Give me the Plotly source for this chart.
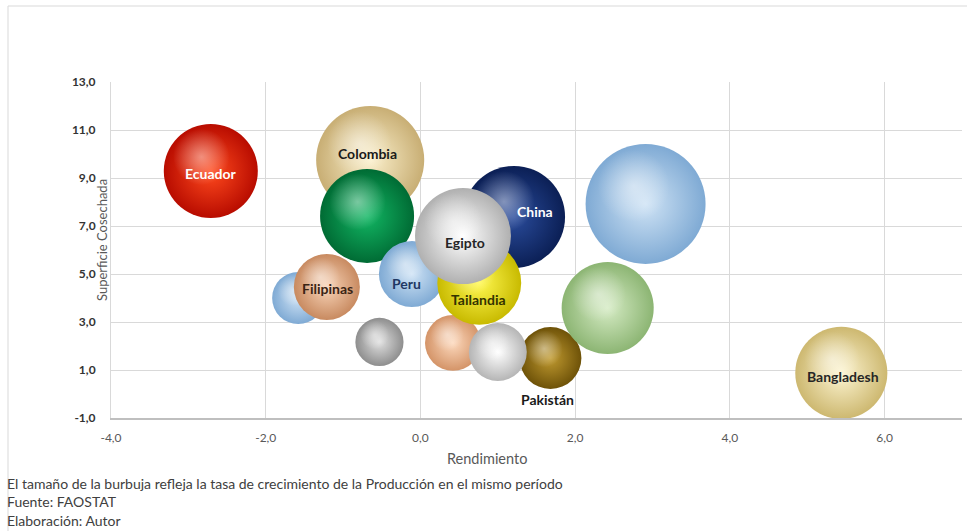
import plotly.graph_objects as go

# ---- data ----
names = ["Colombia", "Verde", "Azul pequeño", "Filipinas", "Peru", "China", "Durazno",
         "Tailandia", "Egipto", "Pakistán", "Blanco", "Gris", "Azul grande",
         "Verde claro", "Ecuador", "Bangladesh"]
rendimiento = [-0.65, -0.69, -1.58, -1.21, -0.11, 1.21, 0.42,
               0.76, 0.55, 1.68, 1.00, -0.53, 2.91,
               2.42, -2.71, 5.44]
superficie = [9.75, 7.42, 4.00, 4.46, 5.00, 7.38, 2.13,
              4.63, 6.58, 1.50, 1.75, 2.17, 7.92,
              3.58, 9.29, 0.88]
crecimiento = [29.2, 22.1, 6.8, 10.9, 10.9, 26.0, 7.8,
               17.6, 23.0, 9.6, 8.4, 5.8, 36.0,
               21.2, 22.1, 21.2]
labels = ["Colombia", "", "", "Filipinas", "Peru", "China", "",
          "Tailandia", "Egipto", "Pakistán", "", "", "",
          "", "Ecuador", "Bangladesh"]

x_ticks = [-4, -2, 0, 2, 4, 6]
y_ticks = [-1, 1, 3, 5, 7, 9, 11, 13]

# ---- styles ----
edge = ["#C8AE74", "#006B34", "#7FAAD4", "#C88A60", "#7FAAD4", "#0B1F55", "#D49468",
        "#C8BA00", "#B0B0B0", "#6E5208", "#B5B5B5", "#8E8E8E", "#7FAAD4",
        "#8CB573", "#B80C00", "#CDB870"]
center = ["#FBF0CC", "#12B764", "#CFE3F5", "#F8D4B8", "#CFE3F5", "#2A4C9C", "#FCD8BC",
          "#FFF850", "#FFFFFF", "#C09A30", "#FFFFFF", "#E0E0E0", "#CFE3F5",
          "#D5EBC4", "#FF4A1E", "#FDF5D2"]
label_color = ["#1a1a1a", "#000", "#000", "#3a2414", "#1F3864", "#FFFFFF", "#000",
               "#333300", "#262626", "#1a1a1a", "#000", "#000", "#000",
               "#000", "#FFFFFF", "#262626"]
label_shift = [(-3, 7), (0, 0), (0, 0), (1, -2), (-5, -9), (21, 5), (0, 0),
               (-1, -17), (2, -6), (-3, -41), (0, 0), (0, 0), (0, 0),
               (0, 0), (0, -2), (2, -4)]

FONT = "Lato, Noto Sans, sans-serif"
W, H = 967, 531
ML, MR, MT, MB = 111, 5, 82, 113
xr = [-4, 7]
yr = [-1, 13]
PW, PH = W - ML - MR, H - MT - MB
px_x = PW / (xr[1] - xr[0])
px_y = PH / (yr[1] - yr[0])
sizeref = 0.005  # plotly area mode: diameter px = 2*sqrt(value / (2*sizeref))


def px(xp):
    return (xp - ML) / PW


def py(yp):
    return (H - MB - yp) / PH


fig = go.Figure()
for i in range(len(names)):
    d = 2 * (crecimiento[i] / (2 * sizeref)) ** 0.5
    fig.add_trace(go.Scatter(
        x=[rendimiento[i]], y=[superficie[i]], mode="markers", name=names[i],
        marker=dict(size=[crecimiento[i]], sizemode="area", sizeref=sizeref, opacity=1,
                    color=edge[i], line=dict(width=0),
                    gradient=dict(type="radial", color=center[i])),
        hoverinfo="name", showlegend=False))
    # specular highlight (offset up-left from the bubble centre)
    r = d / 2
    fig.add_trace(go.Scatter(
        x=[rendimiento[i] - 0.2 * r / px_x], y=[superficie[i] + 0.3 * r / px_y],
        mode="markers", hoverinfo="skip", showlegend=False,
        marker=dict(size=d * 0.6, color="rgba(255,255,255,0)", line=dict(width=0), opacity=1,
                    gradient=dict(type="radial", color="rgba(255,255,255,0.45)"))))

annotations = []
for i in range(len(names)):
    if labels[i]:
        annotations.append(dict(
            x=rendimiento[i], y=superficie[i], xref="x", yref="y", text="<b>%s</b>" % labels[i],
            showarrow=False, xshift=label_shift[i][0], yshift=label_shift[i][1],
            xanchor="center", yanchor="middle",
            font=dict(family=FONT, size=14, color=label_color[i])))

annotations += [
    dict(x=px(102), y=py(240), xref="paper", yref="paper", xanchor="center", yanchor="middle",
         text="Superficie Cosechada", textangle=-90, showarrow=False,
         font=dict(family=FONT, size=13, color="#595959")),
    dict(x=px(487), y=py(458), xref="paper", yref="paper", xanchor="center", yanchor="middle",
         text="Rendimiento", showarrow=False,
         font=dict(family=FONT, size=14.5, color="#595959")),
]
foot = ["El tamaño de la burbuja refleja la tasa de crecimiento de la Producción en el mismo período",
        "Fuente: FAOSTAT", "Elaboración: Autor"]
for k, t in enumerate(foot):
    annotations.append(dict(
        x=px(5), y=py(483 + 18.5 * k),
        xref="paper", yref="paper", xanchor="left", yanchor="middle", text=t, showarrow=False,
        font=dict(family=FONT, size=14, color="#404040")))

fig.update_layout(
    width=W, height=H, margin=dict(l=ML, r=MR, t=MT, b=MB),
    paper_bgcolor="white", plot_bgcolor="white",
    annotations=annotations,
    shapes=[dict(type="rect", xref="paper", yref="paper",
                 x0=px(8), x1=px(975), y0=py(545), y1=py(6),
                 line=dict(color="#D9D9D9", width=1), layer="below")],
    xaxis=dict(range=xr, tickvals=x_ticks,
               ticktext=[("%.1f" % v).replace(".", ",") for v in x_ticks],
               showgrid=True, gridcolor="#D9D9D9", gridwidth=1, zeroline=False, showline=True,
               linecolor="#BFBFBF", linewidth=1.5, ticklabelstandoff=8,
               tickfont=dict(family=FONT, size=12, color="#595959")),
    yaxis=dict(range=yr, tickvals=y_ticks,
               ticktext=[("%.1f" % v).replace(".", ",") for v in y_ticks],
               showgrid=True, gridcolor="#D9D9D9", gridwidth=1, zeroline=False, showline=True,
               linecolor="#D9D9D9", linewidth=1, ticklabelstandoff=12,
               tickfont=dict(family=FONT, size=12, color="#333333", weight="bold")),
)
fig.write_html("out.html", config={"displayModeBar": False},
               post_script="document.body.style.margin='0px';")
